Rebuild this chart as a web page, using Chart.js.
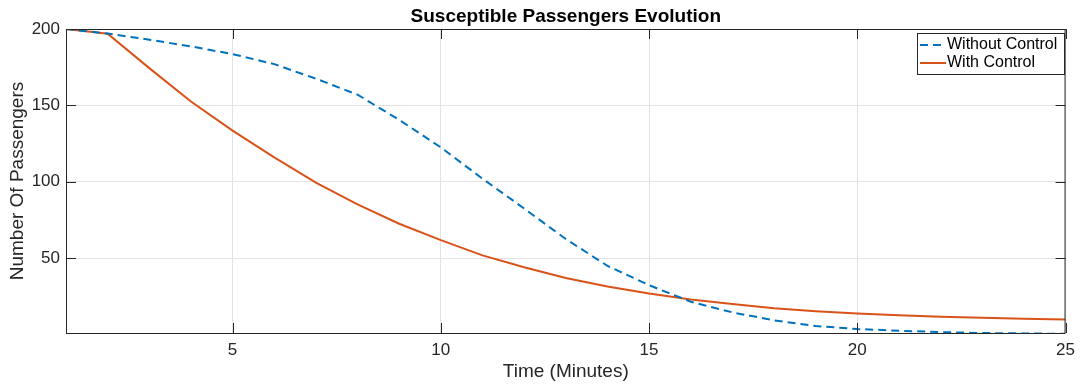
<!DOCTYPE html>
<html>
<head>
<meta charset="utf-8">
<script src="https://cdn.jsdelivr.net/npm/chart.js@4"></script>
<style>
  html, body { margin: 0; padding: 0; background: #fff; }
  #wrap { width: 1082px; height: 388px; }
</style>
</head>
<body>
<div id="wrap"><canvas id="evoChart" width="1082" height="388"></canvas></div>
<script>
// data
var minutes = [1, 2, 3, 4, 5, 6, 7, 8, 9, 10, 11, 12, 13, 14, 15, 16, 17, 18, 19, 20, 21, 22, 23, 24, 25];
var withoutControl = [200, 197, 193, 188.6, 183.6, 177, 167.5, 157, 140.5, 122.5, 102, 82.5, 62.5, 45, 32.3, 21.5, 14.5, 9.3, 5.6, 3.6, 2.5, 1.6, 1.0, 0.7, 0.5];
var withControl = [200, 196.9, 174.4, 152.5, 133.5, 116, 99.5, 85.2, 72.5, 61.8, 51.8, 44, 37, 31.5, 26.8, 23, 20, 17.2, 15.2, 13.7, 12.6, 11.7, 11.0, 10.4, 9.9];
var xTicks = [5, 10, 15, 20, 25];
var yTicks = [50, 100, 150, 200];
var seriesNames = ['Without Control', 'With Control'];

var FONT = '"Liberation Sans", Arial, Helvetica, sans-serif';
var AXIS = '#262626';
var BLUE = '#0072BD';
var ORANGE = '#D95319';

function toPoints(ys) {
    return minutes.map(function(m, i) { return { x: m, y: ys[i] }; });
}

// title, axis labels, box, inward ticks and legend (matlab look)
var decor = {
    id: 'decor',
    afterDraw: function(chart) {
        var c = chart.ctx, a = chart.chartArea;
        var xs = chart.scales.x, ys = chart.scales.y;
        c.save();
        c.strokeStyle = AXIS;
        c.lineWidth = 1;
        c.strokeRect(a.left + 0.5, a.top + 0.5, a.right - a.left - 1, a.bottom - a.top);
        c.beginPath();
        xTicks.forEach(function(t) {
            var px = Math.round(xs.getPixelForValue(t)) + 0.5;
            c.moveTo(px, a.bottom); c.lineTo(px, a.bottom - 10);
            c.moveTo(px, a.top); c.lineTo(px, a.top + 10);
        });
        yTicks.forEach(function(t) {
            var py = Math.round(ys.getPixelForValue(t)) + 0.5;
            c.moveTo(a.left, py); c.lineTo(a.left + 10, py);
            c.moveTo(a.right, py); c.lineTo(a.right - 10, py);
        });
        c.stroke();

        c.fillStyle = '#000';
        c.textAlign = 'center';
        c.textBaseline = 'middle';
        c.font = 'bold 19px ' + FONT;
        c.fillText('Susceptible Passengers Evolution', (a.left + a.right) / 2, 17);

        c.fillStyle = AXIS;
        c.font = '19px ' + FONT;
        c.fillText('Time (Minutes)', (a.left + a.right) / 2, 372);
        c.save();
        c.translate(18, (a.top + a.bottom) / 2);
        c.rotate(-Math.PI / 2);
        c.fillText('Number Of Passengers', 0, 0);
        c.restore();

        // legend
        var lx = 917, ly = 33, lw = 147, lh = 41;
        c.fillStyle = '#fff';
        c.fillRect(lx, ly, lw, lh);
        c.strokeStyle = AXIS;
        c.strokeRect(lx + 0.5, ly + 0.5, lw, lh);
        c.lineWidth = 2;
        c.strokeStyle = BLUE;
        c.setLineDash([8, 5]);
        c.beginPath(); c.moveTo(920, 45); c.lineTo(946, 45); c.stroke();
        c.setLineDash([]);
        c.strokeStyle = ORANGE;
        c.beginPath(); c.moveTo(920, 63); c.lineTo(946, 63); c.stroke();
        c.fillStyle = '#000';
        c.textAlign = 'left';
        c.font = '16px ' + FONT;
        c.fillText(seriesNames[0], 947, 45);
        c.fillText(seriesNames[1], 947, 63);
        c.restore();
    }
};

var ctx = document.getElementById('evoChart').getContext('2d');
var evoChart = new Chart(ctx, {
    type: 'line',
    data: {
        datasets: [{
            label: seriesNames[0],
            data: toPoints(withoutControl),
            borderColor: BLUE,
            borderWidth: 2,
            borderDash: [8, 5],
            pointRadius: 0,
            tension: 0,
            fill: false
        }, {
            label: seriesNames[1],
            data: toPoints(withControl),
            borderColor: ORANGE,
            borderWidth: 2,
            pointRadius: 0,
            tension: 0,
            fill: false
        }]
    },
    options: {
        responsive: false,
        animation: false,
        layout: { padding: { top: 29, right: 14, left: 0, bottom: 0 } },
        plugins: {
            legend: { display: false },
            title: { display: false },
            tooltip: { enabled: false }
        },
        scales: {
            x: {
                type: 'linear',
                min: 1,
                max: 25,
                afterBuildTicks: function(scale) {
                    scale.ticks = xTicks.map(function(v) { return { value: v }; });
                },
                afterFit: function(scale) { scale.height = 55; },
                grid: { color: '#e3e3e3', drawTicks: false },
                border: { display: false },
                ticks: {
                    padding: 7,
                    color: AXIS,
                    font: { family: FONT, size: 17 },
                    maxRotation: 0
                }
            },
            y: {
                type: 'linear',
                min: 1,
                max: 200,
                afterBuildTicks: function(scale) {
                    scale.ticks = yTicks.map(function(v) { return { value: v }; });
                },
                afterFit: function(scale) { scale.width = 66; },
                grid: { color: '#e3e3e3', drawTicks: false },
                border: { display: false },
                ticks: {
                    padding: 6,
                    color: AXIS,
                    font: { family: FONT, size: 17 }
                }
            }
        }
    },
    plugins: [decor]
});
</script>
</body>
</html>
